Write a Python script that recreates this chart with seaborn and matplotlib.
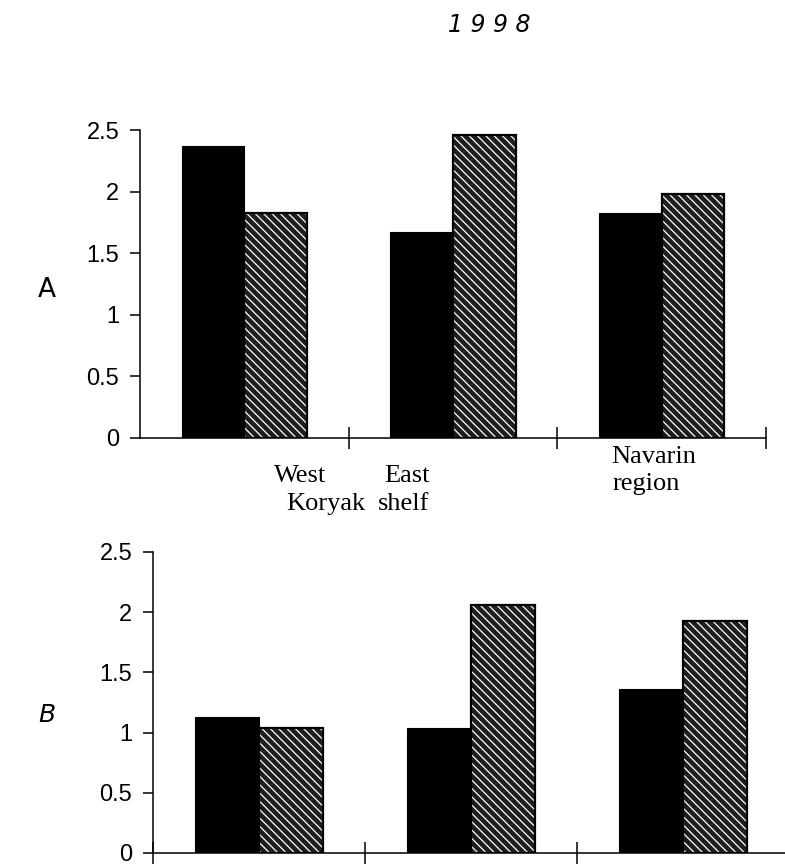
import matplotlib
matplotlib.use("Agg")
import matplotlib.pyplot as plt
import seaborn as sns
import pandas as pd
from matplotlib.patches import Rectangle

regions = ["West Koryak", "East shelf", "Navarin region"]
region_words = [("West", "Koryak"), ("East", "shelf"), ("Navarin", "region")]
series = ["dark", "stippled"]
a_dark = [2.37, 1.67, 1.83]
a_stippled = [1.83, 2.46, 1.98]
b_dark = [1.13, 1.04, 1.36]
b_stippled = [1.04, 2.06, 1.93]
yticks = [0, 0.5, 1, 1.5, 2, 2.5]
ytick_labels = ["0", "0.5", "1", "1.5", "2", "2.5"]

sns.set_theme(style="white")
plt.rcParams["font.family"] = ["Liberation Sans Narrow", "Liberation Sans", "DejaVu Sans"]
plt.rcParams["hatch.linewidth"] = 0.9

def make_df(dark, stip):
    rows = []
    for r, v in zip(regions, dark):
        rows.append({"region": r, "series": series[0], "value": v})
    for r, v in zip(regions, stip):
        rows.append({"region": r, "series": series[1], "value": v})
    return pd.DataFrame(rows)

fig = plt.figure(figsize=(7.85, 8.68), dpi=100)
axA = fig.add_axes([0.1783, 0.4954, 0.7975, 0.3548])
axB = fig.add_axes([0.195, 0.0173, 0.81, 0.3468])

def draw(ax, df, xticks):
    sns.barplot(data=df, x="region", y="value", hue="series",
                palette=["black", "#1e1e1e"], width=0.6, legend=False,
                errorbar=None, ax=ax, saturation=1)
    n = len(regions)
    for p in ax.patches[n:2 * n]:
        p.set_edgecolor("white")
        p.set_linewidth(0)
        p.set_hatch("\\\\\\\\")
        ax.add_patch(Rectangle((p.get_x(), p.get_y()), p.get_width(), p.get_height(),
                               fill=False, edgecolor="black", linewidth=1.6, zorder=3))
    for p in ax.patches[:n]:
        p.set_edgecolor("black")
        p.set_linewidth(0.8)
    ax.set_xlim(-0.5, n - 0.5)
    ax.set_ylim(0, 2.5)
    ax.set_yticks(yticks)
    ax.set_yticklabels(ytick_labels)
    ax.set_xticks(xticks)
    ax.set_xticklabels([""] * len(xticks))
    ax.set_xlabel("")
    ax.set_ylabel("")
    for s in ["top", "right"]:
        ax.spines[s].set_visible(False)
    for s in ["left", "bottom"]:
        ax.spines[s].set_color("black")
        ax.spines[s].set_linewidth(1.1)
        ax.spines[s].set_clip_on(False)
    ax.tick_params(axis="y", direction="out", length=7, width=1.1, color="black",
                   labelsize=17, pad=8, labelcolor="black", left=True)
    ax.tick_params(axis="x", direction="inout", length=16, width=1.1, color="black",
                   bottom=True)
    ax.set_facecolor("white")

draw(axA, make_df(a_dark, a_stippled), [0.5, 1.5, 2.5])
draw(axB, make_df(b_dark, b_stippled), [-0.5, 0.5, 1.5])

# word positions (data x) and baselines (axes y) for the region labels
word_x = [(0.267, 0.391), (0.779, 0.765), (1.963, 1.925)]
word_y = [(-0.143, -0.234), (-0.143, -0.234), (-0.080, -0.170)]
for (w1, w2), (x1, x2), (y1, y2) in zip(region_words, word_x, word_y):
    for w, x, y in ((w1, x1, y1), (w2, x2, y2)):
        axA.text(x, y, w, ha="center", va="baseline", fontsize=19,
                 family=["Liberation Serif", "DejaVu Serif"], color="black",
                 transform=axA.get_xaxis_transform(), clip_on=False)

fig.text(0.623, 0.971, "1 9 9 8", ha="center", va="center", fontsize=17,
         style="italic", family=["DejaVu Sans"], color="black")
fig.text(0.06, 0.666, "A", ha="center", va="center", fontsize=19,
         family=["DejaVu Sans"], color="black")
fig.text(0.06, 0.176, "B", ha="center", va="center", fontsize=18,
         style="italic", family=["DejaVu Sans"], color="black")

fig.savefig("out.png", dpi=100, facecolor="white")
